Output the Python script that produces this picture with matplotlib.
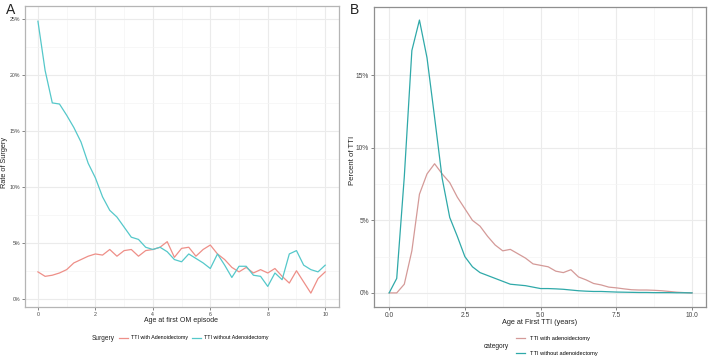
import numpy as np
import matplotlib
matplotlib.use("Agg")
import matplotlib.pyplot as plt
from matplotlib.ticker import FuncFormatter, MultipleLocator

plt.rcParams['font.family'] = ['Liberation Sans', 'DejaVu Sans']

# ---- Panel A data (rate of surgery, %) ----
age_a = [i * 0.25 for i in range(41)]
with_adenoid_a = [2.4, 2.0, 2.1, 2.3, 2.6, 3.2, 3.5, 3.8, 4.0, 3.9, 4.4, 3.8, 4.3, 4.4, 3.8, 4.3,
                  4.4, 4.6, 5.1, 3.7, 4.5, 4.6, 3.8, 4.4, 4.8, 4.0, 3.5, 2.8, 2.4, 2.8, 2.3, 2.6,
                  2.3, 2.7, 2.0, 1.4, 2.5, 1.5, 0.5, 1.8, 2.4]
without_adenoid_a = [24.8, 20.4, 17.5, 17.4, 16.4, 15.3, 14.0, 12.1, 10.8, 9.1, 7.9, 7.3, 6.4, 5.5,
                     5.3, 4.6, 4.4, 4.6, 4.2, 3.5, 3.3, 4.0, 3.6, 3.2, 2.7, 4.0, 3.0, 1.9, 2.9, 2.9,
                     2.1, 2.0, 1.1, 2.3, 1.7, 4.0, 4.3, 3.0, 2.6, 2.4, 3.0]

# ---- Panel B data (percent of TTI, %) ----
age_b = [i * 0.25 for i in range(41)]
with_adenoid_b = [0.0, 0.0, 0.6, 2.9, 6.8, 8.2, 8.9, 8.2, 7.6, 6.6, 5.8, 5.0, 4.6, 3.9, 3.3, 2.9,
                  3.0, 2.7, 2.4, 2.0, 1.9, 1.8, 1.5, 1.4, 1.6, 1.1, 0.9, 0.65, 0.55, 0.4, 0.35, 0.28,
                  0.22, 0.2, 0.2, 0.18, 0.15, 0.1, 0.05, 0.02, 0.0]
without_adenoid_b = [0.0, 1.0, 8.0, 16.7, 18.8, 16.2, 12.1, 7.9, 5.2, 3.9, 2.5, 1.8, 1.4, 1.2, 1.0,
                     0.8, 0.6, 0.55, 0.5, 0.4, 0.3, 0.3, 0.28, 0.25, 0.2, 0.15, 0.12, 0.1, 0.1, 0.08,
                     0.06, 0.05, 0.04, 0.03, 0.03, 0.02, 0.02, 0.02, 0.01, 0.01, 0.0]

labels_a = ["TTI with Adenoidectomy", "TTI without Adenoidectomy"]
labels_b = ["TTI with adenoidectomy", "TTI without adenoidectomy"]

RED_A, CYAN_A = "#EE8F88", "#55C8CA"
RED_B, CYAN_B = "#D49A98", "#2FA9A9"
GRID = "#EBEBEB"
TXT = "#222222"

fig = plt.figure(figsize=(7.09, 3.58), dpi=100)
W, H = 709, 358

def px_axes(l, t, r, b):
    return fig.add_axes([l / W, 1 - b / H, (r - l) / W, (b - t) / H])

def fx(x):
    return x / W

def fy(y):
    return 1 - y / H

pct = FuncFormatter(lambda v, p: f"{v:.0f}%")

def style(ax, xmaj, xmin, ymaj, ymin, lsize, border):
    ax.xaxis.set_major_locator(MultipleLocator(xmaj))
    ax.xaxis.set_minor_locator(MultipleLocator(xmin))
    ax.yaxis.set_major_locator(MultipleLocator(ymaj))
    ax.yaxis.set_minor_locator(MultipleLocator(ymin))
    ax.grid(which="major", color=GRID, lw=0.8)
    ax.grid(which="minor", color="#F4F4F4", lw=0.5)
    ax.set_axisbelow(True)
    for s in ax.spines.values():
        s.set_color(border)
        s.set_linewidth(0.9)
    ax.tick_params(which="major", length=2, width=0.5, color="#555555",
                   labelsize=lsize, labelcolor="#444444", pad=1.5)
    ax.tick_params(which="minor", length=0)
    ax.yaxis.set_major_formatter(pct)

# Panel A
axA = px_axes(25, 6, 339, 307)
axA.plot(age_a, with_adenoid_a, color=RED_A, lw=0.9, label=labels_a[0])
axA.plot(age_a, without_adenoid_a, color=CYAN_A, lw=0.9, label=labels_a[1])
axA.set_xlim(-0.45, 10.48)
axA.set_ylim(-0.74, 26.16)
style(axA, 2, 1, 5, 2.5, 3.8, "#B5B5B5")
axA.xaxis.set_major_formatter(FuncFormatter(lambda v, p: f"{v:.0f}"))
fig.text(fx(181), fy(320), "Age at first OM episode", fontsize=5.0, color=TXT,
         ha="center", va="center")
fig.text(fx(5), fy(162), "Rate of Surgery", fontsize=5.3, color=TXT,
         ha="center", va="center", rotation=90)

# Panel B
axB = px_axes(374, 7, 706, 307)
axB.plot(age_b, with_adenoid_b, color=RED_B, lw=0.9, label=labels_b[0])
axB.plot(age_b, without_adenoid_b, color=CYAN_B, lw=0.9, label=labels_b[1])
axB.set_xlim(-0.5, 10.46)
axB.set_ylim(-0.97, 19.7)
style(axB, 2.5, 1.25, 5, 2.5, 4.8, "#8F8F8F")
axB.xaxis.set_major_formatter(FuncFormatter(lambda v, p: f"{v:.1f}"))
fig.text(fx(540), fy(322), "Age at First TTI (years)", fontsize=5.3, color=TXT,
         ha="center", va="center")
fig.text(fx(352), fy(160), "Percent of TTI", fontsize=5.6, color=TXT,
         ha="center", va="center", rotation=90)

# Panel letters
fig.text(fx(6), fy(10), "A", fontsize=10, va="center", ha="left", color=TXT)
fig.text(fx(350), fy(10), "B", fontsize=10, va="center", ha="left", color=TXT)

# Legend A
fig.text(fx(92), fy(338), "Surgery", fontsize=4.7, va="center", ha="left", color=TXT)
hA, lA = axA.get_legend_handles_labels()
fig.legend(hA, lA, ncol=2, loc="center left", bbox_to_anchor=(fx(119), fy(338)),
           frameon=False, fontsize=3.8, handlelength=1.7, handletextpad=0.5,
           columnspacing=0.9, borderaxespad=0, borderpad=0)

# Legend B
fig.text(fx(484), fy(346), "category", fontsize=4.8, va="center", ha="left", color=TXT)
hB, lB = axB.get_legend_handles_labels()
fig.legend(hB, lB, ncol=1, loc="center left", bbox_to_anchor=(fx(516), fy(346)),
           frameon=False, fontsize=4.1, handlelength=1.6, handletextpad=0.8,
           labelspacing=1.6, borderaxespad=0, borderpad=0)

fig.savefig("out.png", dpi=100)
